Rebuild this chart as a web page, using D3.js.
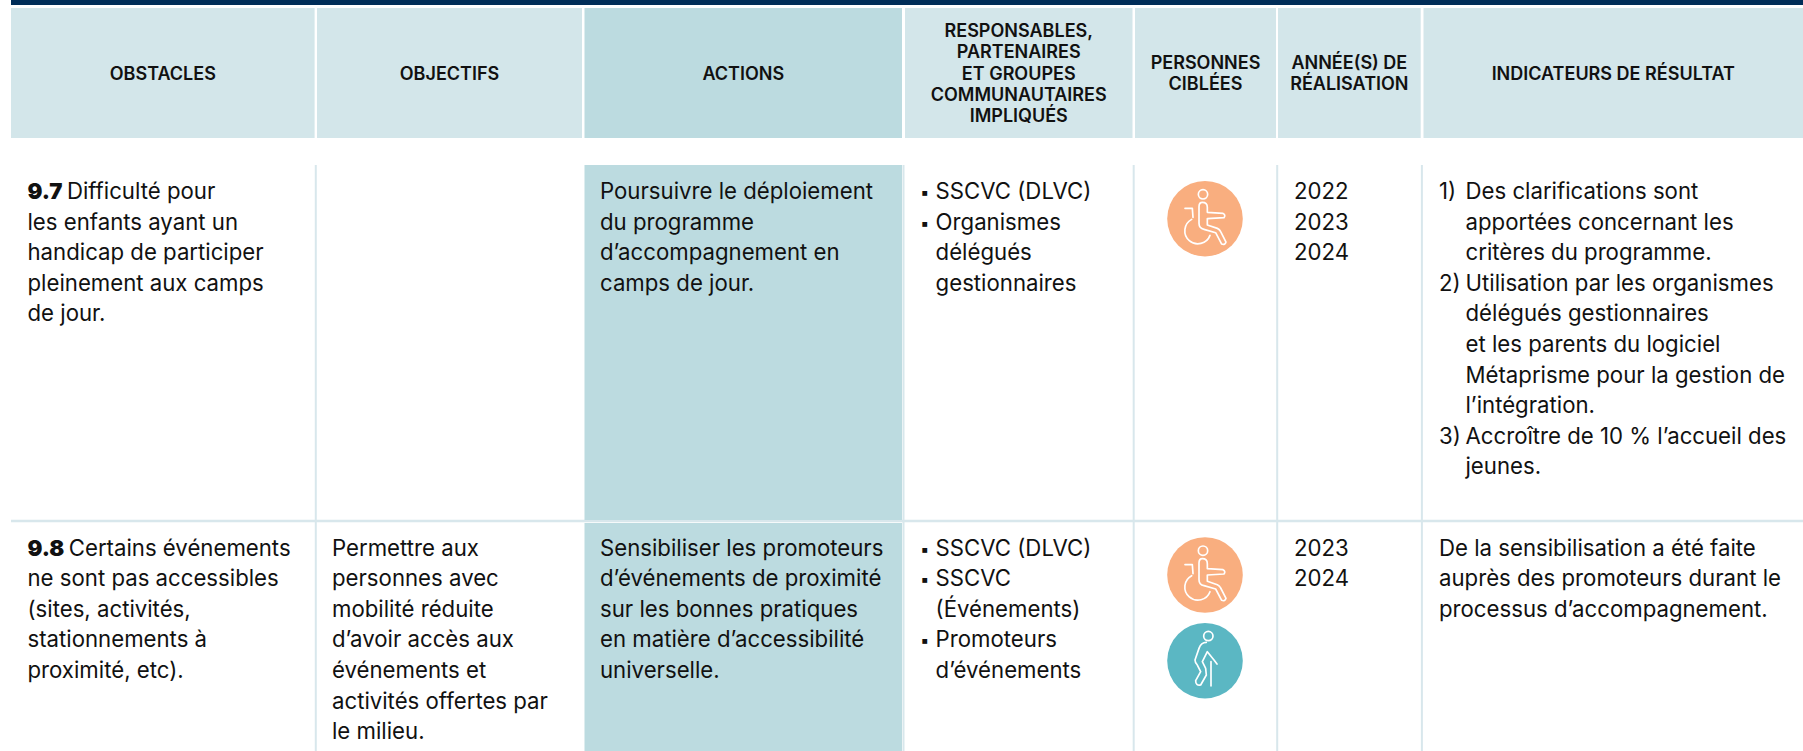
<!DOCTYPE html>
<html lang="fr">
<head>
<meta charset="UTF-8">
<title>Plan d'action</title>
<script src="https://d3js.org/d3.v7.min.js"></script>
<style>
  html, body { margin: 0; padding: 0; background: #fff; }
  svg { display: block; }
  text { fill: #111; font-family: "Inter", sans-serif; }
  .head { font-size: 18px; font-weight: 600; text-anchor: middle; }
  .body { font-size: 22.2px; font-weight: 400; }
  .num { font-weight: 900; }
  .bullet { font-size: 17px; }
</style>
</head>
<body>
<svg id="chart" width="1803" height="751"></svg>
<script>
// Table content
const columns = ["obstacles", "objectifs", "actions", "responsables", "personnes", "annees", "indicateurs"];
const headerLabels = [
  ["OBSTACLES"],
  ["OBJECTIFS"],
  ["ACTIONS"],
  ["RESPONSABLES,", "PARTENAIRES", "ET GROUPES", "COMMUNAUTAIRES", "IMPLIQUÉS"],
  ["PERSONNES", "CIBLÉES"],
  ["ANNÉE(S) DE", "RÉALISATION"],
  ["INDICATEURS DE RÉSULTAT"]
];
const rowIds = ["9.7", "9.8"];
const obstacles = [
  ["Difficulté pour", "les enfants ayant un", "handicap de participer", "pleinement aux camps", "de jour."],
  ["Certains événements", "ne sont pas accessibles", "(sites, activités,", "stationnements à", "proximité, etc)."]
];
const objectifs = [
  [],
  ["Permettre aux", "personnes avec", "mobilité réduite", "d’avoir accès aux", "événements et", "activités offertes par", "le milieu."]
];
const actions = [
  ["Poursuivre le déploiement", "du programme", "d’accompagnement en", "camps de jour."],
  ["Sensibiliser les promoteurs", "d’événements de proximité", "sur les bonnes pratiques", "en matière d’accessibilité", "universelle."]
];
// "•" prefix marks a line that opens a new bullet
const responsables = [
  ["•SSCVC (DLVC)", "•Organismes", "délégués", "gestionnaires"],
  ["•SSCVC (DLVC)", "•SSCVC", "(Événements)", "•Promoteurs", "d’événements"]
];
const personnes = [["wheelchair"], ["wheelchair", "cane"]];
const annees = [["2022", "2023", "2024"], ["2023", "2024"]];
const indicateurs = [
  ["1) |Des clarifications sont", "apportées concernant les", "critères du programme.", "2) |Utilisation par les organismes", "délégués gestionnaires", "et les parents du logiciel", "Métaprisme pour la gestion de", "l’intégration.", "3) |Accroître de 10 % l’accueil des", "jeunes."],
  ["De la sensibilisation a été faite", "auprès des promoteurs durant le", "processus d’accompagnement."]
];

// Layout
const colLeft = [11, 317, 584.5, 905, 1135, 1278, 1423.5];
const colRight = [314.6, 582, 902, 1132.5, 1276, 1420.7, 1803];
const textLeft = [27.5, 332, 600, 935.6, 0, 1294, 1439];
const rowTop = [165, 523];
const rowBottom = [520, 751];
const lineH = 30.6;
const firstBaseline = [199, 555.5];

const x0 = d3.scaleOrdinal().domain(columns).range(colLeft);
const x1 = d3.scaleOrdinal().domain(columns).range(colRight);
const tx = d3.scaleOrdinal().domain(columns).range(textLeft);
const ry0 = d3.scaleOrdinal().domain(rowIds).range(rowTop);
const ry1 = d3.scaleOrdinal().domain(rowIds).range(rowBottom);
const rb = d3.scaleOrdinal().domain(rowIds).range(firstBaseline);

const colors = { navy: "#002d58", head: "#d3e6ea", action: "#bcdbe0", rule: "#d8e7ec", orange: "#f9ae7f", teal: "#5bb7c3" };
const svg = d3.select("#chart");

// Top band
svg.append("rect").attr("x", 11).attr("y", 0).attr("width", 1792).attr("height", 5).attr("fill", colors.navy);

// Header cells
svg.append("g").selectAll("rect").data(columns).join("rect")
  .attr("x", d => x0(d))
  .attr("y", 8)
  .attr("width", d => x1(d) - x0(d))
  .attr("height", 130)
  .attr("fill", d => d === "actions" ? colors.action : colors.head);

const headLineH = 21.4;
columns.forEach((c, i) => {
  const lines = headerLabels[i];
  svg.append("g").selectAll("text").data(lines).join("text")
    .attr("class", "head")
    .attr("x", (x0(c) + x1(c)) / 2)
    .attr("y", (d, k) => 79.5 + (k - (lines.length - 1) / 2) * headLineH)
    .text(d => d);
});

// Row rules and the actions band
const rules = svg.append("g").attr("stroke", colors.rule);
rules.selectAll("line").data(["obstacles", "responsables", "personnes", "annees"]).join("line")
  .attr("x1", d => x1(d) + 1.2)
  .attr("x2", d => x1(d) + 1.2)
  .attr("y1", 165).attr("y2", 751).attr("stroke-width", 2);
rules.append("line").attr("x1", 903.5).attr("x2", 903.5).attr("y1", 165).attr("y2", 751).attr("stroke-width", 2);
rules.append("line").attr("x1", 11).attr("x2", 1803).attr("y1", 521).attr("y2", 521).attr("stroke-width", 2.5);

svg.append("g").selectAll("rect").data(rowIds).join("rect")
  .attr("x", x0("actions"))
  .attr("width", x1("actions") - x0("actions"))
  .attr("y", d => ry0(d))
  .attr("height", d => ry1(d) - ry0(d))
  .attr("fill", colors.action);

// Body text
function drawLines(col, rowIdx, lines) {
  const row = rowIds[rowIdx];
  const g = svg.append("g").attr("class", "body");
  lines.forEach((raw, k) => {
    const y = rb(row) + k * lineH;
    let label = raw;
    let x = tx(col);
    if (col === "responsables" && raw[0] === "•") {
      label = raw.slice(1);
      g.append("text").attr("class", "bullet").attr("x", 920).attr("y", y - 1).text("▪");
    }
    if (col === "indicateurs") {
      if (raw.includes("|")) {
        g.append("text").attr("x", tx(col)).attr("y", y).text(raw.split("|")[0]);
        label = raw.split("|")[1];
      }
      if (rowIdx === 0) x = 1465.5;
    }
    const t = g.append("text").attr("x", x).attr("y", y);
    if (col === "obstacles" && k === 0) {
      t.append("tspan").attr("class", "num").text(row + " ");
    }
    t.append("tspan").text(label);
  });
}

rowIds.forEach((row, i) => {
  drawLines("obstacles", i, obstacles[i]);
  drawLines("objectifs", i, objectifs[i]);
  drawLines("actions", i, actions[i]);
  drawLines("responsables", i, responsables[i]);
  drawLines("annees", i, annees[i]);
  drawLines("indicateurs", i, indicateurs[i]);
});

// Pictograms, traced in a 3x local grid around the disc centre
const iconPaths = {
  wheelchair: {
    fill: colors.orange,
    origin: [168, 146],
    head: [162, 73],
    strokes: [
      "M150 110Q150 97 160 97Q175 97 175 112L175 127L222 130Q231 135 225 143L175 146L175 165L205 175Q212 178 215 185L231 216Q228 226 218 222L200 188L165 178Q150 175 150 160Z",
      "M108 115L130 115L132 142",
      "M128 148A39 39 0 1 0 183 196"
    ]
  },
  cane: {
    fill: colors.teal,
    origin: [168, 152],
    head: [178, 78],
    strokes: [
      "M172 97Q156 97 150 115L138 150Q138 158 145 165L155 185L140 212Q140 228 155 225L172 195L170 175L160 155L175 125L195 150L204 162",
      "M186 155L186 228"
    ]
  }
};

const iconX = (x0("personnes") + x1("personnes")) / 2 - 0.5;
const iconY = d3.scaleOrdinal().domain(["9.7/0", "9.8/0", "9.8/1"]).range([218.7, 575, 660.7]);

rowIds.forEach((row, i) => {
  personnes[i].forEach((name, k) => {
    const icon = iconPaths[name];
    const g = svg.append("g").attr("transform", `translate(${iconX},${iconY(row + "/" + k)})`);
    g.append("circle").attr("r", 37.8).attr("fill", icon.fill);
    const inner = g.append("g")
      .attr("transform", `scale(${1 / 3}) translate(${-icon.origin[0]},${-icon.origin[1]})`)
      .attr("fill", "none").attr("stroke", "#fff").attr("stroke-width", 5)
      .attr("stroke-linejoin", "round").attr("stroke-linecap", "round");
    inner.append("circle").attr("cx", icon.head[0]).attr("cy", icon.head[1]).attr("r", 14);
    inner.selectAll("path").data(icon.strokes).join("path").attr("d", d => d);
  });
});
</script>
</body>
</html>
